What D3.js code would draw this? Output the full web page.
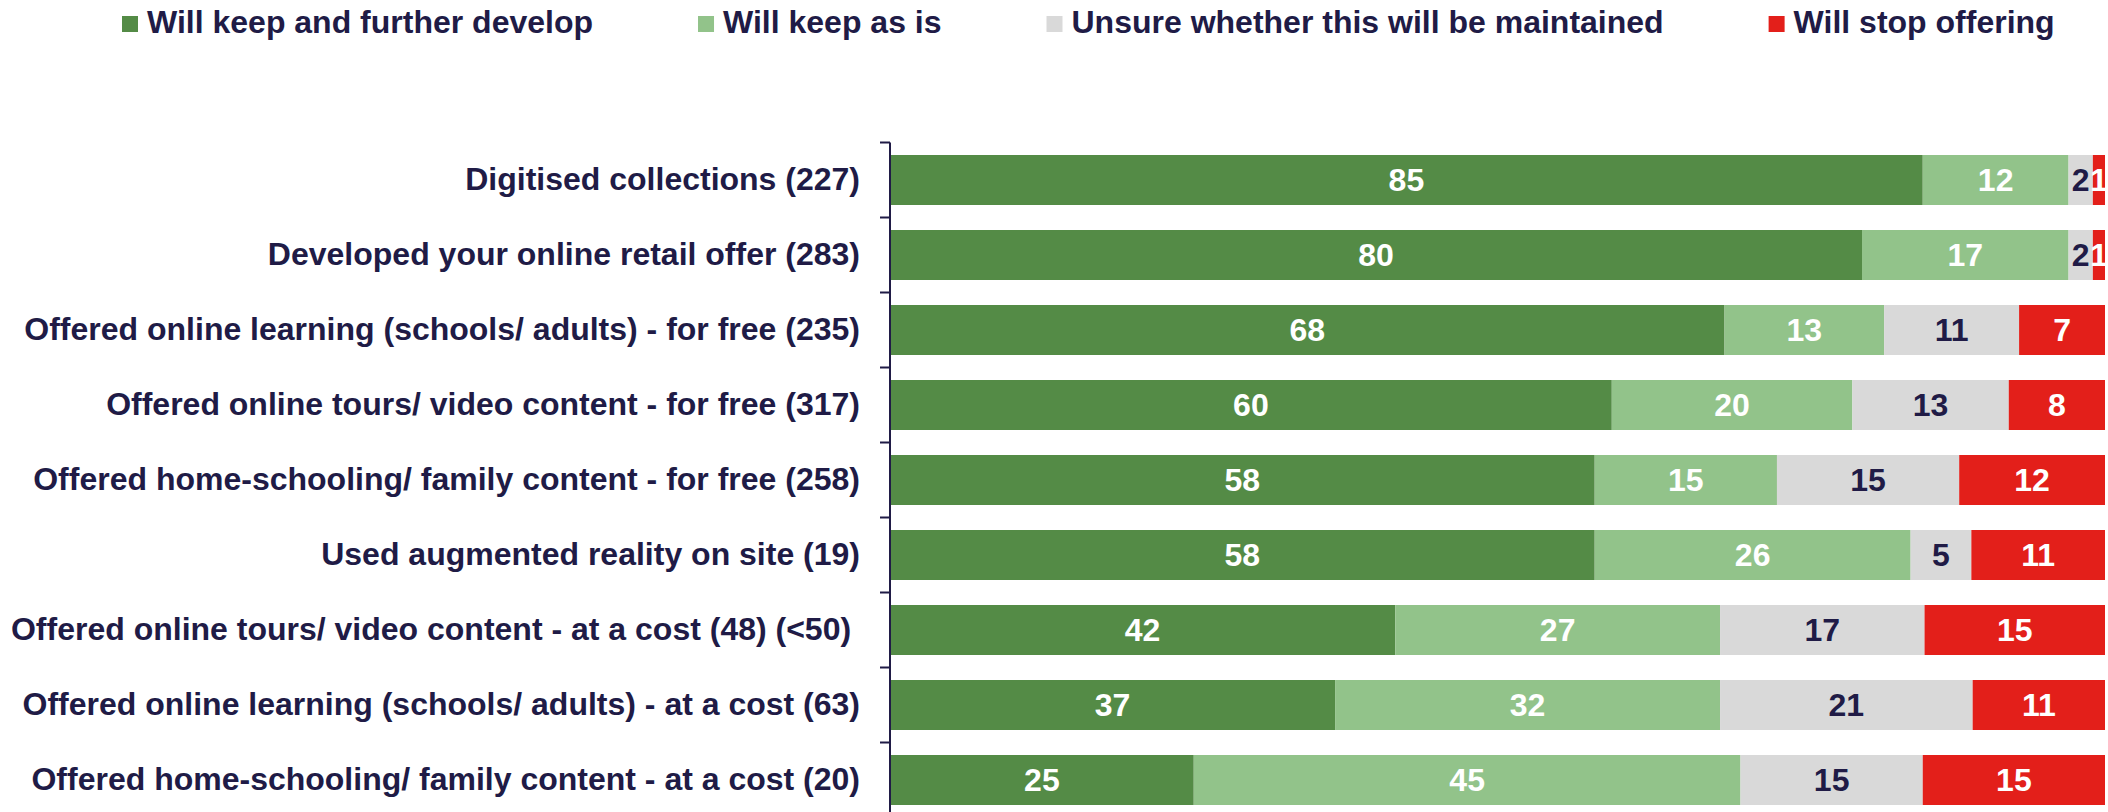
<!DOCTYPE html>
<html>
<head>
<meta charset="utf-8">
<script src="https://cdn.jsdelivr.net/npm/d3@7"></script>
<style>
  html, body { margin: 0; padding: 0; background: #fff; }
  svg { display: block; }
  text { font-family: "Liberation Sans", Arial, sans-serif; font-weight: bold; white-space: pre; }
</style>
</head>
<body>
<svg id="chart" width="2108" height="812"></svg>
<script>
// Survey: plans for each digital activity, % of respondents (base in brackets)
const categories = [
  "Digitised collections (227)",
  "Developed your online retail offer (283)",
  "Offered online learning (schools/ adults) - for free (235)",
  "Offered online tours/ video content - for free (317)",
  "Offered home-schooling/ family content - for free (258)",
  "Used augmented reality on site (19)",
  "Offered online tours/ video content - at a cost (48) (<50) ",
  "Offered online learning (schools/ adults) - at a cost (63)",
  "Offered home-schooling/ family content - at a cost (20)"
];
const seriesNames = [
  "Will keep and further develop",
  "Will keep as is",
  "Unsure whether this will be maintained",
  "Will stop offering"
];
const keepDevelop = [85, 80, 68, 60, 58, 58, 42, 37, 25];
const keepAsIs    = [12, 17, 13, 20, 15, 26, 27, 32, 45];
const unsure      = [2, 2, 11, 13, 15, 5, 17, 21, 15];
const stopOffer   = [1, 1, 7, 8, 12, 11, 15, 11, 15];

const colors = ["#548b46", "#92c38a", "#d9d9d9", "#e31f1a"];
const labelColors = ["#ffffff", "#ffffff", "#201b46", "#ffffff"];
const navy = "#201b46";

const rows = categories.map((c, i) => ({
  category: c,
  [seriesNames[0]]: keepDevelop[i],
  [seriesNames[1]]: keepAsIs[i],
  [seriesNames[2]]: unsure[i],
  [seriesNames[3]]: stopOffer[i]
}));

const svg = d3.select("#chart");
const plotLeft = 890, plotRight = 2105;

const x = d3.scaleLinear().domain([0, 1]).range([plotLeft, plotRight]);
const y = d3.scaleBand()
  .domain(categories)
  .range([142.5, 817.5])
  .paddingInner(1 / 3)
  .paddingOuter(1 / 6);

// each row fills 100% of the width
const stacked = d3.stack()
  .keys(seriesNames)
  .offset(d3.stackOffsetExpand)(rows);

const layers = svg.append("g").selectAll("g")
  .data(stacked)
  .join("g")
  .attr("fill", (d, i) => colors[i]);

layers.selectAll("rect")
  .data(d => d)
  .join("rect")
  .attr("x", d => x(d[0]))
  .attr("y", d => y(d.data.category))
  .attr("width", d => x(d[1]) - x(d[0]))
  .attr("height", y.bandwidth());

// value labels centred in each segment
layers.each(function (layer, li) {
  d3.select(this).selectAll("text")
    .data(layer)
    .join("text")
    .attr("x", d => (x(d[0]) + x(d[1])) / 2)
    .attr("y", d => y(d.data.category) + y.bandwidth() / 2)
    .attr("dy", "0.35em")
    .attr("text-anchor", "middle")
    .attr("font-size", 32)
    .attr("fill", labelColors[li])
    .text(d => d.data[layer.key]);
});

// category axis
const yAxis = d3.axisLeft(y).tickSize(0).tickPadding(30);
const axisG = svg.append("g")
  .attr("transform", `translate(${plotLeft},0)`)
  .call(yAxis);
axisG.select(".domain").remove();
axisG.selectAll(".tick text")
  .attr("font-size", 32)
  .attr("fill", navy)
  .attr("font-family", "Liberation Sans, Arial, sans-serif")
  .attr("font-weight", "bold");

// axis line and boundary ticks between categories
const halfGap = y.step() * y.paddingInner() / 2;
svg.append("line")
  .attr("x1", plotLeft).attr("x2", plotLeft)
  .attr("y1", y(categories[0]) - halfGap)
  .attr("y2", y(categories[categories.length - 1]) + y.bandwidth() + halfGap)
  .attr("stroke", navy).attr("stroke-width", 2);
svg.append("g").selectAll("line")
  .data(categories)
  .join("line")
  .attr("x1", plotLeft - 10).attr("x2", plotLeft)
  .attr("y1", d => y(d) - halfGap)
  .attr("y2", d => y(d) - halfGap)
  .attr("stroke", navy).attr("stroke-width", 2);

// legend
const legend = svg.append("g").attr("transform", "translate(122,0)");
let lx = 0;
seriesNames.forEach((name, i) => {
  const g = legend.append("g").attr("transform", `translate(${lx},0)`);
  g.append("rect")
    .attr("x", 0).attr("y", 16)
    .attr("width", 16).attr("height", 16)
    .attr("fill", colors[i]);
  const t = g.append("text")
    .attr("x", 25).attr("y", 33)
    .attr("font-size", 32)
    .attr("fill", navy)
    .text(name);
  lx += 25 + t.node().getComputedTextLength() + 105;
});
</script>
</body>
</html>
